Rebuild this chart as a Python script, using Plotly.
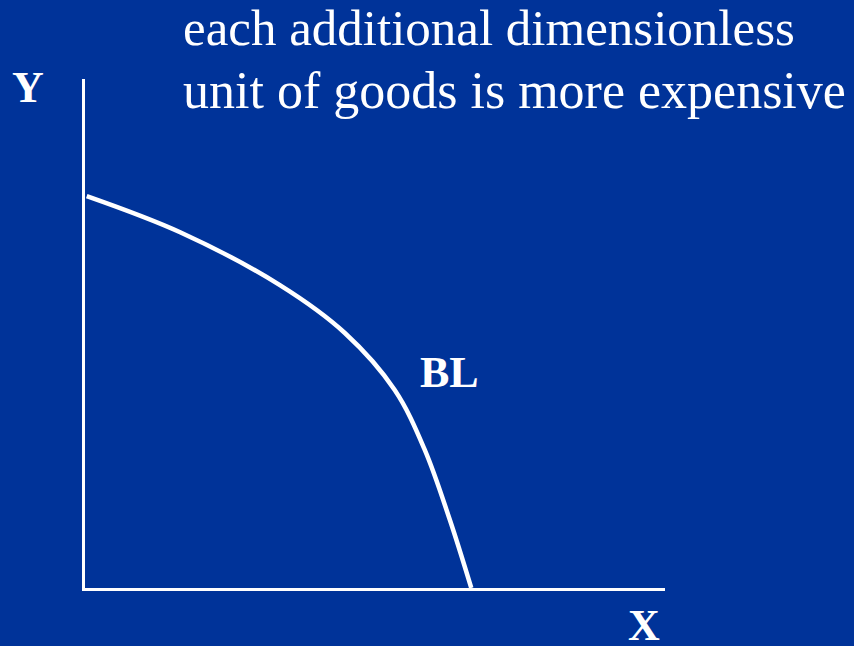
import plotly.graph_objects as go

# Budget line (BL): concave curve, quantity of good X vs good Y
bl_x = [0.03, 1.64, 3.36, 4.48, 5.34, 5.86, 6.29, 6.66]
bl_y = [7.70, 6.99, 5.95, 5.01, 3.89, 2.71, 1.34, 0.00]

x_range = [0, 10]
y_range = [0, 10]

caption = ["each additional dimensionless", "unit of goods is more expensive"]
curve_label = "BL"
x_label = "X"
y_label = "Y"

BG = "#003399"
FG = "white"
W, H = 854, 646

fig = go.Figure()
fig.add_trace(go.Scatter(
    x=bl_x, y=bl_y, mode="lines",
    line=dict(color=FG, width=4.5, shape="spline", smoothing=1.0),
    hoverinfo="skip", showlegend=False,
))

axis_common = dict(
    showline=True, linecolor=FG, linewidth=3, mirror=False,
    showgrid=False, zeroline=False, showticklabels=False, ticks="",
)
fig.update_xaxes(range=x_range, domain=[85 / W, 665 / W], **axis_common)
fig.update_yaxes(range=y_range, domain=[(H - 588) / H, (H - 79) / H], **axis_common)

serif = "Liberation Serif, Times New Roman, serif"

annotations = [
    dict(text=caption[0], x=181 / W, y=1 - 28 / H, xanchor="left", yanchor="middle",
         font=dict(family=serif, size=51, color=FG)),
    dict(text=caption[1], x=181 / W, y=1 - 91 / H, xanchor="left", yanchor="middle",
         font=dict(family=serif, size=52, color=FG)),
    dict(text=f"<b>{y_label}</b>", x=28 / W, y=1 - 87 / H, xanchor="center", yanchor="middle",
         font=dict(family=serif, size=44, color=FG)),
    dict(text=f"<b>{x_label}</b>", x=644 / W, y=1 - 625 / H, xanchor="center", yanchor="middle",
         font=dict(family=serif, size=44, color=FG)),
]
for a in annotations:
    a.update(xref="paper", yref="paper", showarrow=False)

annotations.append(dict(
    text=f"<b>{curve_label}</b>", x=6.29, y=4.24, xref="x", yref="y",
    xanchor="center", yanchor="middle", showarrow=False,
    font=dict(family=serif, size=44, color=FG),
))

fig.update_layout(
    width=W, height=H,
    margin=dict(l=0, r=0, t=0, b=0),
    paper_bgcolor=BG, plot_bgcolor=BG,
    annotations=annotations,
    showlegend=False,
)

fig.write_html("out.html")
